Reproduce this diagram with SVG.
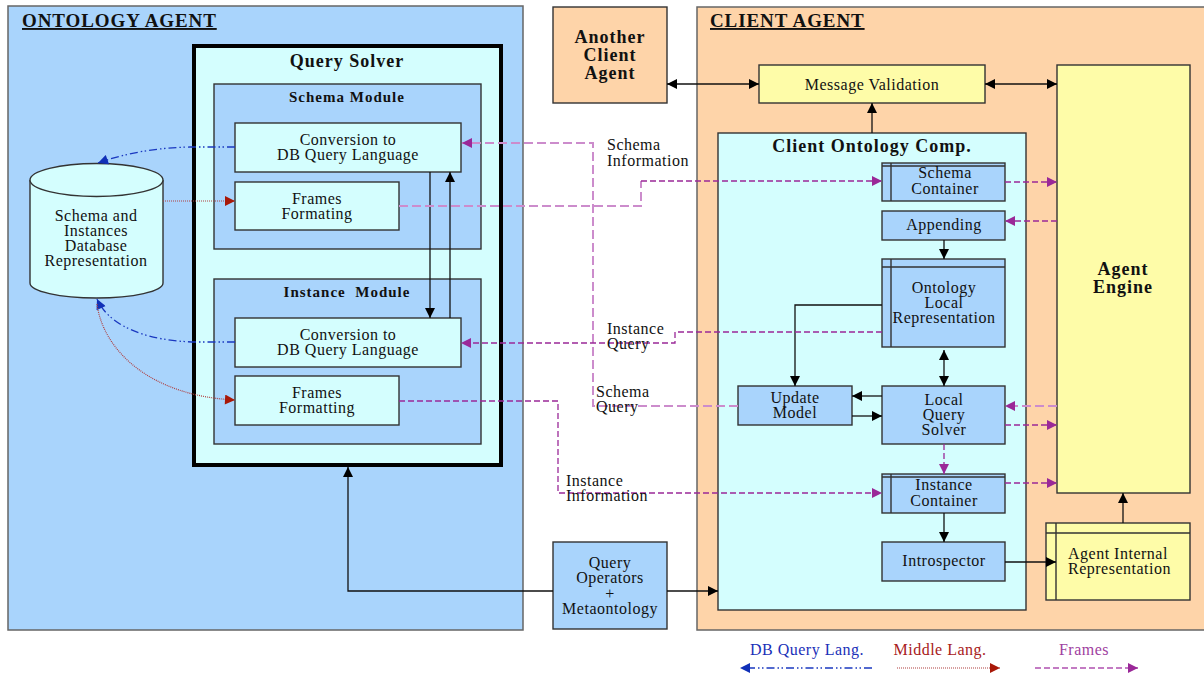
<svg xmlns="http://www.w3.org/2000/svg" width="1204" height="674" viewBox="0 0 1204 674">
  <style>
    text { font-family: "Liberation Serif", "Times New Roman", serif; fill: #111; }
    .t { font-size: 16px; text-anchor: middle; letter-spacing: 0.5px; }
    .tl { font-size: 16px; letter-spacing: 0.5px; }
    .h { font-size: 19px; font-weight: bold; text-decoration: underline; letter-spacing: 0.9px; }
    .b { font-weight: bold; text-anchor: middle; letter-spacing: 1px; }
    .agentO { fill: #a9d4fc; stroke: #666; stroke-width: 1.5; }
    .agentC { fill: #fed4a9; stroke: #666; stroke-width: 1.5; }
    .cyan { fill: #d4fefe; stroke: #333; stroke-width: 1.4; }
    .blue { fill: #a9d4fc; stroke: #333; stroke-width: 1.4; }
    .yel { fill: #fefca8; stroke: #333; stroke-width: 1.4; }
    .peach { fill: #fed4a9; stroke: #333; stroke-width: 1.4; }
    .rule { stroke: #333; stroke-width: 1.4; fill: none; }
    .ln { fill: none; stroke: #111; stroke-width: 1.3; }
    .fd { fill: none; stroke: #9a2898; stroke-width: 1.3; stroke-dasharray: 6 3; }
    .fl { fill: none; stroke: #cc8ccc; stroke-width: 2; stroke-dasharray: 9 4; }
    .db { fill: none; stroke: #1a38c0; stroke-width: 1.3; stroke-dasharray: 8 3 1.5 2.5 1.5 3; }
    .ml { fill: none; stroke: #b04040; stroke-width: 1.2; stroke-dasharray: 1 1; }
  </style>
  <defs>
    <marker id="ak" viewBox="0 0 10 10" refX="10" refY="5" markerWidth="11" markerHeight="10" markerUnits="userSpaceOnUse" orient="auto-start-reverse">
      <path d="M0,0L10,5L0,10z" fill="#000"/>
    </marker>
    <marker id="ap" viewBox="0 0 10 10" refX="10" refY="5" markerWidth="11" markerHeight="10" markerUnits="userSpaceOnUse" orient="auto-start-reverse">
      <path d="M0,0L10,5L0,10z" fill="#9a2898"/>
    </marker>
    <marker id="ab" viewBox="0 0 10 10" refX="10" refY="5" markerWidth="12" markerHeight="10" markerUnits="userSpaceOnUse" orient="auto-start-reverse">
      <path d="M0,0L10,5L0,10z" fill="#1030b8"/>
    </marker>
    <marker id="ar" viewBox="0 0 10 10" refX="10" refY="5" markerWidth="12" markerHeight="10" markerUnits="userSpaceOnUse" orient="auto-start-reverse">
      <path d="M0,0L10,5L0,10z" fill="#a81808"/>
    </marker>
  </defs>

  <rect x="0" y="0" width="1204" height="674" fill="#fff"/>

  <!-- Ontology agent -->
  <g id="ontology-agent">
    <rect class="agentO" x="8" y="6" width="515" height="624"/>
    <text class="h" x="22" y="27">ONTOLOGY AGENT</text>
  </g>

  <g id="query-solver">
    <rect x="194" y="46" width="307" height="419" fill="#d4fefe" stroke="#000" stroke-width="4"/>
    <text class="b" x="347" y="67" font-size="18">Query Solver</text>
  </g>

  <g id="schema-module">
    <rect class="blue" x="214" y="84" width="267" height="165"/>
    <text class="b" x="347" y="102" font-size="15">Schema Module</text>
  </g>
  <g id="schema-conversion">
    <rect class="cyan" x="235" y="123" width="226" height="49"/>
    <text class="t" x="348" y="145">Conversion to</text>
    <text class="t" x="348" y="160">DB Query Language</text>
  </g>
  <g id="schema-frames">
    <rect class="cyan" x="235" y="182" width="164" height="48"/>
    <text class="t" x="317" y="204">Frames</text>
    <text class="t" x="317" y="219">Formating</text>
  </g>

  <g id="instance-module">
    <rect class="blue" x="214" y="279" width="267" height="165"/>
    <text class="b" x="347" y="297" font-size="15" xml:space="preserve">Instance  Module</text>
  </g>
  <g id="instance-conversion">
    <rect class="cyan" x="235" y="318" width="226" height="49"/>
    <text class="t" x="348" y="340">Conversion to</text>
    <text class="t" x="348" y="355">DB Query Language</text>
  </g>
  <g id="instance-frames">
    <rect class="cyan" x="235" y="376" width="164" height="49"/>
    <text class="t" x="317" y="398">Frames</text>
    <text class="t" x="317" y="413">Formatting</text>
  </g>

  <g id="database">
    <path d="M30,180 V283 A66.5,15 0 0 0 163,283 V180" fill="#d4fefe" stroke="#333" stroke-width="1.4"/>
    <ellipse cx="96.5" cy="180" rx="66.5" ry="16.5" fill="#d4fefe" stroke="#333" stroke-width="1.4"/>
    <text class="t" x="96" y="221">Schema and</text>
    <text class="t" x="96" y="236">Instances</text>
    <text class="t" x="96" y="251">Database</text>
    <text class="t" x="96" y="266">Representation</text>
  </g>

  <g id="another-client-agent">
    <rect class="peach" x="553" y="7" width="114" height="96"/>
    <text class="b" x="610" y="43" font-size="18">Another</text>
    <text class="b" x="610" y="61" font-size="18">Client</text>
    <text class="b" x="610" y="79" font-size="18">Agent</text>
  </g>

  <g id="query-operators">
    <rect class="blue" x="553" y="542" width="114" height="87" stroke="#000" stroke-width="3.5"/>
    <text class="t"><tspan x="610" y="568">Query</tspan><tspan x="610" y="583">Operators</tspan><tspan x="610" y="599">+</tspan><tspan x="610" y="614">Metaontology</tspan></text>
  </g>

  <!-- Client agent -->
  <g id="client-agent">
    <rect class="agentC" x="697" y="7" width="515" height="623"/>
    <text class="h" x="710" y="27">CLIENT AGENT</text>
  </g>

  <g id="message-validation">
    <rect class="yel" x="759" y="65" width="226" height="38"/>
    <text class="t" x="872" y="90">Message Validation</text>
  </g>

  <g id="agent-engine">
    <rect class="yel" x="1057" y="65" width="133" height="428"/>
    <text class="b" x="1123" y="275" font-size="18">Agent</text>
    <text class="b" x="1123" y="293" font-size="18">Engine</text>
  </g>

  <g id="client-ontology-comp">
    <rect class="cyan" x="718" y="133" width="308" height="477"/>
    <text class="b" x="872" y="152" font-size="18">Client Ontology Comp.</text>
  </g>

  <g id="schema-container">
    <rect class="blue" x="882" y="163" width="123" height="38"/>
    <path class="rule" d="M891,163V201M882,166H1005"/>
    <text class="t" x="945" y="178">Schema</text>
    <text class="t" x="945" y="194">Container</text>
  </g>

  <g id="appending">
    <rect class="blue" x="882" y="211" width="123" height="29"/>
    <text class="t" x="944" y="230">Appending</text>
  </g>

  <g id="ontology-local-representation">
    <rect class="blue" x="882" y="259" width="123" height="88"/>
    <path class="rule" d="M891,259V347M882,267H1005"/>
    <text class="t" x="944" y="293">Ontology</text>
    <text class="t" x="944" y="308">Local</text>
    <text class="t" x="944" y="323">Representation</text>
  </g>

  <g id="update-model">
    <rect class="blue" x="738" y="386" width="114" height="39"/>
    <text class="t" x="795" y="403">Update</text>
    <text class="t" x="795" y="418">Model</text>
  </g>

  <g id="local-query-solver">
    <rect class="blue" x="882" y="386" width="123" height="58"/>
    <text class="t" x="944" y="405">Local</text>
    <text class="t" x="944" y="420">Query</text>
    <text class="t" x="944" y="435">Solver</text>
  </g>

  <g id="instance-container">
    <rect class="blue" x="882" y="474" width="123" height="39"/>
    <path class="rule" d="M891,474V513M882,477H1005"/>
    <text class="t" x="944" y="490">Instance</text>
    <text class="t" x="944" y="506">Container</text>
  </g>

  <g id="introspector">
    <rect class="blue" x="882" y="542" width="123" height="39"/>
    <text class="t" x="944" y="566">Introspector</text>
  </g>

  <g id="agent-internal-representation">
    <rect class="yel" x="1046" y="523" width="144" height="77"/>
    <path class="rule" d="M1056,523V600M1046,533H1190"/>
    <text class="tl" x="1068" y="559">Agent Internal</text>
    <text class="tl" x="1068" y="574">Representation</text>
  </g>

  <!-- Connectors -->
  <g id="connectors">
    <!-- plain control flow -->
    <path class="ln" d="M430,172V318" marker-end="url(#ak)"/>
    <path class="ln" d="M450,318V172" marker-end="url(#ak)"/>
    <path class="ln" d="M553,591H348V467" marker-end="url(#ak)"/>
    <path class="ln" d="M667,591H718" marker-end="url(#ak)"/>
    <path class="ln" d="M667,84H759" marker-start="url(#ak)" marker-end="url(#ak)"/>
    <path class="ln" d="M985,84H1057" marker-start="url(#ak)" marker-end="url(#ak)"/>
    <path class="ln" d="M872,133V103" marker-end="url(#ak)"/>
    <path class="ln" d="M944,240V259" marker-end="url(#ak)"/>
    <path class="ln" d="M944,350V386" marker-start="url(#ak)" marker-end="url(#ak)"/>
    <path class="ln" d="M882,305H795V386" marker-end="url(#ak)"/>
    <path class="ln" d="M882,396H852" marker-end="url(#ak)"/>
    <path class="ln" d="M852,416H882" marker-end="url(#ak)"/>
    <path class="ln" d="M944,513V542" marker-end="url(#ak)"/>
    <path class="ln" d="M1005,562H1056" marker-end="url(#ak)"/>
    <path class="ln" d="M1123,523V493" marker-end="url(#ak)"/>

    <!-- DB query language -->
    <path class="db" d="M235,147H190Q140,148 98,163" marker-end="url(#ab)"/>
    <path class="db" d="M235,342H195C150,341 110,328 97,299" marker-end="url(#ab)"/>

    <!-- middle language -->
    <path class="ml" d="M163,201H235" marker-end="url(#ar)"/>
    <path class="ml" d="M97,304C103,350 150,396 235,400" marker-end="url(#ar)"/>

    <!-- frames -->
    <path class="fl" d="M738,406H593V143H462" marker-end="url(#ap)"/>
    <path class="fl" d="M399,206H641V181"/>
    <path class="fd" d="M641,181H882" marker-end="url(#ap)"/>
    <path class="fd" d="M882,332H675V343H461" marker-end="url(#ap)"/>
    <path class="fd" d="M399,401H558V493H882" marker-end="url(#ap)"/>
    <path class="fd" d="M1005,182H1057" marker-end="url(#ap)"/>
    <path class="fd" d="M1057,221H1005" marker-end="url(#ap)"/>
    <path class="fl" d="M1057,406H1005" marker-end="url(#ap)"/>
    <path class="fd" d="M1005,425H1057" marker-end="url(#ap)"/>
    <path class="fd" d="M944,444V474" marker-end="url(#ap)"/>
    <path class="fd" d="M1005,483H1057" marker-end="url(#ap)"/>
  </g>

  <!-- connector labels -->
  <g id="connector-labels">
    <text class="tl" x="607" y="150">Schema</text>
    <text class="tl" x="607" y="166">Information</text>
    <text class="tl" x="607" y="334">Instance</text>
    <text class="tl" x="607" y="349">Query</text>
    <text class="tl" x="596" y="397">Schema</text>
    <text class="tl" x="596" y="412">Query</text>
    <text class="tl" x="566" y="486">Instance</text>
    <text class="tl" x="566" y="501">Information</text>
  </g>

  <!-- legend -->
  <g id="legend">
    <text class="t" x="807" y="655" style="fill:#1a30b8">DB Query Lang.</text>
    <path class="db" d="M872,668H740" marker-end="url(#ab)"/>
    <text class="t" x="940" y="655" style="fill:#a82020">Middle Lang.</text>
    <path class="ml" d="M897,668H1000" marker-end="url(#ar)"/>
    <text class="t" x="1084" y="655" style="fill:#a040a0">Frames</text>
    <path class="fd" d="M1035,668H1138" marker-end="url(#ap)" style="stroke:#b050b0"/>
  </g>
</svg>
